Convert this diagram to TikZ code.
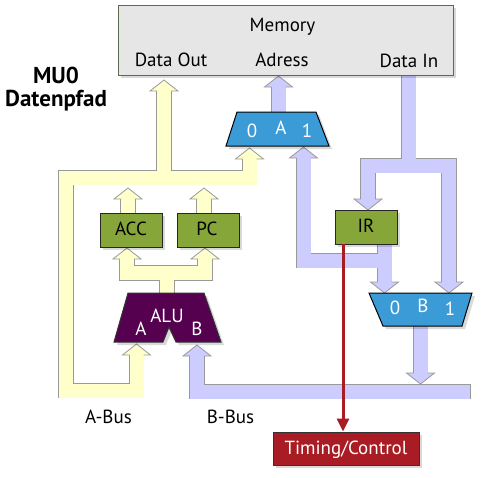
\documentclass[tikz,border=0pt]{standalone}
\usepackage{fontspec}
\setmainfont{PT Sans}
\usepackage{tikz}
\usetikzlibrary{arrows.meta, positioning, backgrounds, shadows}

\definecolor{memgray}{HTML}{E6E6E6}
\definecolor{memedge}{HTML}{5C6B4E}
\definecolor{regolive}{HTML}{87A63A}
\definecolor{muxblue}{HTML}{3A9BD6}
\definecolor{alupurple}{HTML}{560050}
\definecolor{ctlred}{HTML}{A91C23}
\definecolor{busyellow}{HTML}{FFFFCC}
\definecolor{buslilac}{HTML}{CCCCFF}
\definecolor{busedge}{HTML}{999999}

\tikzstyle{shade} = [drop shadow={shadow xshift=3pt, shadow yshift=-3pt,
    opacity=0.15, fill=black}]
\tikzstyle{memory} = [rectangle, minimum width=335pt, minimum height=70pt,
    fill=memgray, draw=memedge, line width=1pt, shade]
\tikzstyle{lbl} = [font=\fontsize{19}{21}\selectfont, inner sep=0pt, anchor=base]
\tikzstyle{inlbl} = [lbl, text=white]
\tikzstyle{title} = [font=\fontsize{23}{25}\selectfont\bfseries, inner sep=0pt,
    anchor=base]
\tikzstyle{reg} = [rectangle, minimum width=62pt, minimum height=34pt,
    inner sep=0pt, fill=regolive, draw=black!85, line width=1pt, shade]
\tikzstyle{mux} = [fill=muxblue, draw=black, line width=1pt, shade]
\tikzstyle{alu} = [fill=alupurple, draw=black!80, line width=1pt, shade]
\tikzstyle{ctlbox} = [rectangle, minimum width=146pt, minimum height=33pt,
    fill=ctlred, draw=black!80, line width=1pt, shade]
\tikzstyle{ctl} = [line width=3pt, draw=ctlred, -{Triangle[width=12pt, length=13pt]}]
\tikzstyle{busO} = [line width=15.6pt, draw=busedge]
\tikzstyle{busF} = [line width=14pt]
\tikzstyle{endO} = []
\tikzstyle{endF} = [shorten >=0.8pt]
\tikzstyle{intip} = [shorten >=10.5pt]
\tikzstyle{outtip} = [shorten <=10.5pt]

\newcommand{\headup}[2]{%
  \fill[#2, shift={(#1)}] (-14,11) -- (0,0) -- (14,11) -- cycle;
  \draw[busedge, line width=0.8pt, shift={(#1)}]
    (-7,11) -- (-14,11) -- (0,0) -- (14,11) -- (7,11);}
\newcommand{\headdown}[2]{%
  \fill[#2, shift={(#1)}] (-14,-11) -- (0,0) -- (14,-11) -- cycle;
  \draw[busedge, line width=0.8pt, shift={(#1)}]
    (-7,-11) -- (-14,-11) -- (0,0) -- (14,-11) -- (7,-11);}

\begin{document}
\begin{tikzpicture}[x=1pt, y=-1pt]
\useasboundingbox (0,0) rectangle (490,477);

% Memory
\node[memory] (mem) at (285.5,40) {};
\node[lbl] (memt) at (282.5,31) {Memory};
\node[lbl] (dout) at (171,66) {Data Out};
\node[lbl] (adr) at (282,66) {Adress};
\node[lbl] (din) at (409,67) {Data In};
\node[title] (mu0) at (56,83) {MU0};
\node[title] (dpf) at (56,106) {Datenpfad};

% Multiplexer
\filldraw[mux] (237,112) -- (316,112) -- (329,146) -- (226,146) -- cycle;
\coordinate (muxAtop) at (277.5,112);
\node[inlbl] (a0) at (252,137) {0};
\node[inlbl] (aA) at (281,134) {A};
\node[inlbl] (a1) at (307,137) {1};
\filldraw[mux] (369,293) -- (472,293) -- (462,326) -- (383,326) -- cycle;
\coordinate (muxBbot) at (420.5,326);
\node[inlbl] (b0) at (395,314) {0};
\node[inlbl] (bB) at (423,312) {B};
\node[inlbl] (b1) at (450,315) {1};

% Register
\node[reg] (acc) at (131,230) {};
\node[reg, right=14pt of acc] (pc) {};
\node[reg] (ir) at (366,227) {};
\node[lbl] (acct) at (131,235) {ACC};
\node[lbl] (pct) at (207,235) {PC};
\node[lbl] (irt) at (366,232) {IR};

% ALU
\filldraw[alu] (128,293) -- (204,293) -- (221,342) -- (176,342) -- (169,327)
    -- (163,342) -- (114,342) -- cycle;
\node[inlbl] (alu) at (167,322) {ALU};
\node[inlbl] (aluA) at (141,335) {A};
\node[inlbl] (aluB) at (197,335) {B};

% Steuerung
\node[ctlbox] (tc) at (346,448.5) {};
\node[inlbl] (tct) at (346,454) {Timing/Control};
\node[lbl] (abus) at (108.5,423) {A-Bus};
\node[lbl] (bbus) at (230.5,423) {B-Bus};

% Bus-Punkte
\coordinate (aTip) at (136.5,344);
\coordinate (aLowR) at (136.5,390.5);
\coordinate (aLowL) at (66,390.5);
\coordinate (aTopL) at (66,177.5);
\coordinate (aTopR) at (249.5,177.5);
\coordinate (m0Tip) at (249.5,148);
\coordinate (doutJ) at (164,177.5);
\coordinate (doutTip) at (164,80);
\coordinate (accTip) at (128,188);
\coordinate (pcTip) at (204,188);
\coordinate (aluOut) at (167,293);
\coordinate (aluJ) at (167,273);
\coordinate (accIn) at (127,248);
\coordinate (accJ) at (127,273);
\coordinate (pcJ) at (205,273);
\coordinate (pcIn) at (205,248);
\coordinate (adrTip) at (278.5,76);
\coordinate (dinJ) at (408.5,165.5);
\coordinate (dinL) at (368,165.5);
\coordinate (dinR) at (449,165.5);
\coordinate (irTip) at (368,210);
\coordinate (b1Tip) at (449,293);
\coordinate (m1Tip) at (303.5,147);
\coordinate (fbL) at (303.5,260.5);
\coordinate (fbR) at (384.5,260.5);
\coordinate (b0Tip) at (384.5,293);
\coordinate (boTip) at (420.5,384);
\coordinate (bTip) at (197,345);
\coordinate (bLow) at (197,391.5);
\coordinate (bEnd) at (471,391.5);
\coordinate (ctlS) at (343,244);

% Busse
\begin{pgfonlayer}{background}
\foreach \pass/\bend in {busO/endO, busF/endF} {
  \draw[busyellow, \pass, intip, outtip] (aTip) -- (aLowR) -- (aLowL)
      -- (aTopL) -- (aTopR) -- (m0Tip);
  \draw[busyellow, \pass, intip] (doutJ) -- (doutTip);
  \draw[busyellow, \pass, intip] (acc.north -| accTip) -- (accTip);
  \draw[busyellow, \pass, intip] (pc.north -| pcTip) -- (pcTip);
  \draw[busyellow, \pass, intip, outtip] (accIn) -- (accJ) -- (pcJ) -- (pcIn);
  \draw[busyellow, \pass] (aluOut) -- (aluJ);
  \draw[buslilac, \pass, intip] (adrTip |- muxAtop) -- (adrTip);
  \draw[buslilac, \pass] (dinJ |- mem.south) -- (dinJ);
  \draw[buslilac, \pass, intip, outtip] (irTip) -- (dinL) -- (dinR) -- (b1Tip);
  \draw[buslilac, \pass, outtip] (m1Tip) -- (fbL) -- (fbR);
  \draw[buslilac, \pass, intip] (fbR |- ir.south) -- (b0Tip);
  \draw[buslilac, \pass, intip] (boTip |- muxBbot) -- (boTip);
  \draw[buslilac, \pass, outtip, \bend] (bTip) -- (bLow) -- (bEnd);
}
\headup{aTip}{busyellow}
\headup{m0Tip}{busyellow}
\headup{doutTip}{busyellow}
\headup{accTip}{busyellow}
\headup{pcTip}{busyellow}
\headup{accIn}{busyellow}
\headup{pcIn}{busyellow}
\headup{adrTip}{buslilac}
\headup{m1Tip}{buslilac}
\headup{bTip}{buslilac}
\headdown{irTip}{buslilac}
\headdown{b1Tip}{buslilac}
\headdown{b0Tip}{buslilac}
\headdown{boTip}{buslilac}
\end{pgfonlayer}

% Steuerleitung
\draw[ctl] (ctlS) -- (ctlS |- tc.north);
\end{tikzpicture}
\end{document}
